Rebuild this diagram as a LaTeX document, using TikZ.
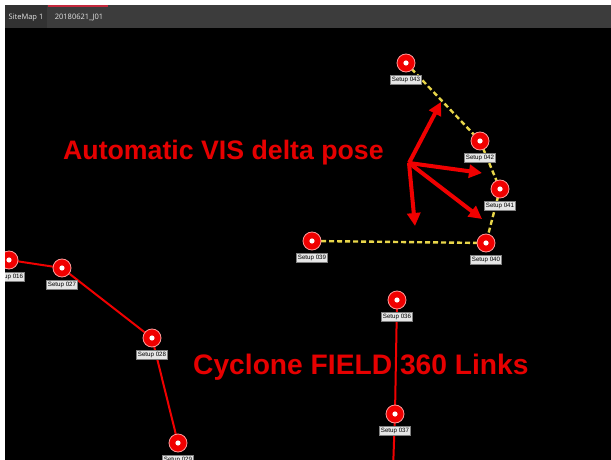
\documentclass[tikz,border=0pt]{standalone}
\usepackage{fontspec}
\setmainfont{Liberation Sans}
\newfontfamily\tabfont{Open Sans}
\usetikzlibrary{arrows.meta}
\pgfdeclarelayer{bg}
\pgfdeclarelayer{lines}
\pgfdeclarelayer{top}
\pgfsetlayers{bg,lines,main,top}
\definecolor{bargray}{HTML}{3C3C3C}
\definecolor{tabgray}{HTML}{323232}
\definecolor{tabred}{HTML}{C4283C}
\definecolor{mapred}{HTML}{F00000}
\definecolor{txtred}{HTML}{E60000}
\definecolor{ringpink}{HTML}{FF9A9A}
\definecolor{dashyellow}{HTML}{E8D64A}
\definecolor{lblfill}{HTML}{E6E6E6}
\tikzset{
  setup/.style={circle, fill=mapred, draw=ringpink, line width=0.8pt,
    minimum size=18pt, inner sep=0pt,
    path picture={\fill[white] (path picture bounding box.center) circle (2.6pt);}},
  lbl/.style={fill=lblfill, draw=gray, line width=0.3pt, inner sep=1.3pt,
    font=\fontsize{6.2}{7}\selectfont, text=black},
  redlink/.style={draw=mapred, line width=2pt},
  yellink/.style={draw=dashyellow, line width=2.4pt, dash pattern=on 5pt off 3pt},
  bigarrow/.style={draw=mapred, line width=4pt, -{Triangle[length=13pt,width=13pt]}},
  bigtext/.style={text=txtred, font=\bfseries, inner sep=0pt, anchor=west},
  tabtext/.style={text=white!80!gray, font=\tabfont\fontsize{7.5}{8}\selectfont, inner sep=0pt}
}
\begin{document}
\begin{tikzpicture}[x=1pt,y=-1pt]
\clip (0,0) rectangle (611,460);
\begin{pgfonlayer}{bg}
  \fill[black] (0,0) rectangle (611,460);
  \fill[bargray] (5,5) rectangle (611,28);
  \fill[tabgray] (5,5) rectangle (47,28);
  \fill[tabred] (48,5) rectangle (108,7.5);
\end{pgfonlayer}
\node[tabtext] (tab1) at (26,17.5) {SiteMap 1};
\node[tabtext] (tab2) at (79,17.5) {20180621\_J01};

% nodes
\node[setup, label={[lbl, label distance=3pt]below:Setup 043}] (s43) at (406,63) {};
\node[setup, label={[lbl, label distance=3pt]below:Setup 042}] (s42) at (480,141) {};
\node[setup, label={[lbl, label distance=3pt]below:Setup 041}] (s41) at (500,189) {};
\node[setup, label={[lbl, label distance=3pt]below:Setup 040}] (s40) at (486,243) {};
\node[setup, label={[lbl, label distance=3pt]below:Setup 039}] (s39) at (312,241) {};
\node[setup, label={[lbl, label distance=3pt]below:Setup 016}] (s16) at (9,260) {};
\node[setup, label={[lbl, label distance=3pt]below:Setup 027}] (s27) at (62,268) {};
\node[setup, label={[lbl, label distance=3pt]below:Setup 028}] (s28) at (152,338) {};
\node[setup, label={[lbl, label distance=3pt]below:Setup 029}] (s29) at (178,443) {};
\node[setup, label={[lbl, label distance=3pt]below:Setup 036}] (s36) at (397,300) {};
\node[setup, label={[lbl, label distance=3pt]below:Setup 037}] (s37) at (395,414) {};
\coordinate (s37end) at (393,470);

\begin{pgfonlayer}{lines}
  \draw[yellink] (s43.center) -- (s42.center);
  \draw[yellink] (s42.center) -- (s41.center);
  \draw[yellink] (s41.center) -- (s40.center);
  \draw[yellink] (s40.center) -- (s39.center);
  \draw[redlink] (s16.center) -- (s27.center);
  \draw[redlink] (s27.center) -- (s28.center);
  \draw[redlink] (s28.center) -- (s29.center);
  \draw[redlink] (s36.center) -- (s37.center);
  \draw[redlink] (s37.center) -- (s37end);
\end{pgfonlayer}

% arrows
\coordinate (o) at (409,163);
\coordinate (a1) at (441,102);
\coordinate (a2) at (482,173);
\coordinate (a3) at (482,219);
\coordinate (a4) at (415,226);
\draw[bigarrow] (o) -- (a1);
\draw[bigarrow] (o) -- (a2);
\draw[bigarrow] (o) -- (a3);
\draw[bigarrow] (o) -- (a4);

\node[bigtext, font=\bfseries\fontsize{26.7}{30}\selectfont] (t1) at (63,153) {Automatic VIS delta pose};
\node[bigtext, font=\bfseries\fontsize{28.2}{32}\selectfont] (t2) at (193,367) {Cyclone FIELD 360 Links};

\begin{pgfonlayer}{top}
  \fill[white] (0,0) rectangle (611,5);
  \fill[white] (0,0) rectangle (5,460);
\end{pgfonlayer}
\end{tikzpicture}
\end{document}
